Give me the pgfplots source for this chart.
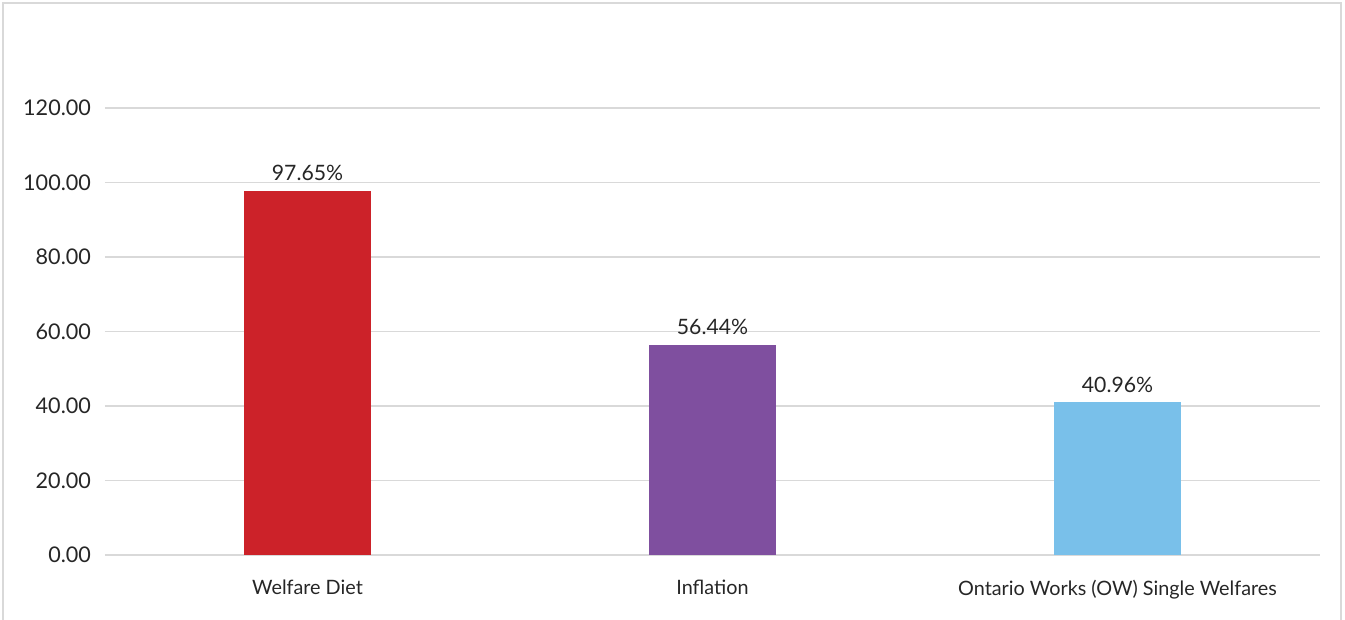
\documentclass[border=0pt]{standalone}
\usepackage{pgfplots}
\pgfplotsset{compat=1.18}
\usepackage{fontspec}
\setmainfont{Lato}
\definecolor{txt}{HTML}{262626}
\definecolor{gridc}{HTML}{D9D9D9}
\definecolor{cred}{HTML}{CC2229}
\definecolor{cpur}{HTML}{7F4F9F}
\definecolor{cblue}{HTML}{79C0EA}
\begin{document}
\begin{tikzpicture}
\useasboundingbox (0,0) rectangle (672.5pt,310pt);
\draw[gridc, line width=1pt] (1.5pt,-1pt) -- (1.5pt,308.5pt) -- (670.5pt,308.5pt) -- (670.5pt,-1pt);
\begin{axis}[
  at={(52.5pt,32.5pt)}, anchor=south west,
  scale only axis, width=607.5pt, height=223.5pt,
  xmin=-0.5, xmax=2.5, ymin=0, ymax=120,
  xtick={0,1,2},
  xticklabels={Welfare Diet, Inflation, Ontario Works (OW) Single Welfares},
  ytick={0,20,...,120},
  /pgf/number format/assume math mode=true,
  yticklabel={\pgfmathprintnumber[fixed,fixed zerofill,precision=2]{\tick}},
  ymajorgrids, grid style={gridc, line width=0.8pt},
  axis x line*=bottom, axis y line*=left,
  x axis line style={gridc, line width=1pt, -},
  y axis line style={draw=none},
  major tick length=0pt,
  tick label style={font=\fontsize{10.8}{12}\selectfont, text=txt},
  xticklabel style={font=\fontsize{9.9}{11}\selectfont, yshift=-9pt},
  yticklabel style={xshift=-3.5pt},
  ybar, bar width=63.5pt, bar shift=0pt,
  nodes near coords={\pgfmathprintnumber[fixed,fixed zerofill,precision=2]{\pgfplotspointmeta}\%},
  nodes near coords style={font=\fontsize{10.6}{12}\selectfont, text=txt, /pgf/number format/assume math mode=true, yshift=1.5pt},
  clip=false,
]
\addplot[fill=cred, draw=none] coordinates {(0,97.65)};
\addplot[fill=cpur, draw=none] coordinates {(1,56.44)};
\addplot[fill=cblue, draw=none] coordinates {(2,40.96)};
\end{axis}
\end{tikzpicture}
\end{document}
